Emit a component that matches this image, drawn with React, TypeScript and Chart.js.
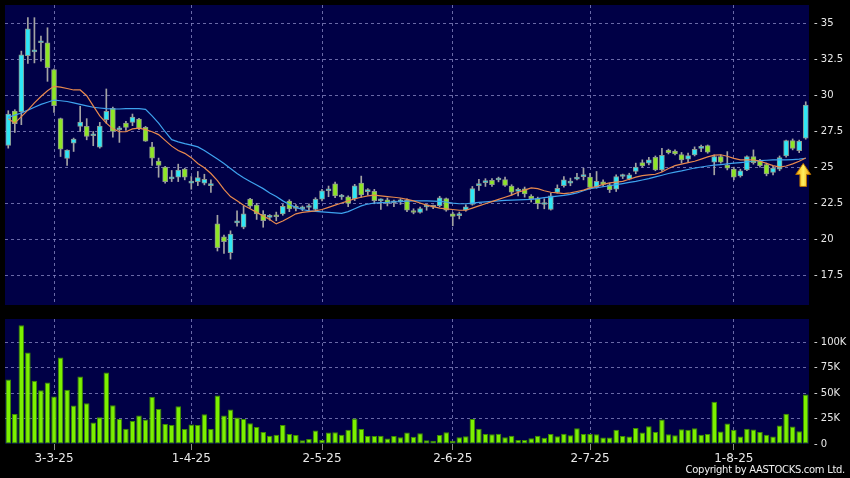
import React, { useEffect, useRef } from 'react';
import { Chart, registerables } from 'chart.js';

Chart.register(...registerables);

// ---- data ----
const opens = [
  26.55, 28.94, 28.87, 32.79, 33.05, 33.68, 33.68, 31.82, 28.41, 25.64,
  26.71, 27.87, 27.87, 27.22, 26.43, 28.34, 29.13, 27.64, 28.10, 28.15,
  28.38, 27.80, 26.46, 25.46, 25.04, 24.23, 24.34, 24.90, 23.93, 24.04,
  23.93, 23.76, 21.10, 20.20, 19.11, 21.17, 20.87, 22.83, 22.41, 21.76,
  21.55, 21.72, 21.79, 22.68, 22.34, 22.14, 22.24, 22.10, 22.82, 23.40,
  23.88, 22.97, 22.98, 22.83, 23.93, 23.34, 23.36, 22.70, 22.77, 22.57,
  22.64, 22.75, 22.00, 21.89, 22.28, 22.26, 22.37, 22.86, 21.80, 21.68,
  22.05, 22.45, 23.76, 23.97, 24.12, 24.15, 24.18, 23.73, 23.36, 23.54,
  23.04, 22.86, 22.45, 22.10, 23.28, 23.75, 23.93, 24.21, 24.38, 24.35,
  23.65, 24.02, 23.81, 23.51, 24.39, 24.21, 24.74, 25.36, 25.32, 25.73,
  24.85, 26.22, 26.15, 25.92, 25.59, 25.89, 26.35, 26.54, 25.38, 25.78,
  25.18, 24.90, 24.44, 24.85, 25.78, 25.48, 25.22, 24.67, 24.90, 25.82,
  26.88, 26.19, 27.05,
];
const highs = [
  28.96, 29.03, 33.10, 35.42, 35.42, 34.14, 34.72, 31.87, 28.45, 26.25,
  27.06, 29.27, 28.41, 27.52, 28.15, 30.47, 29.22, 27.87, 28.22, 28.73,
  28.43, 27.87, 26.76, 25.67, 25.09, 24.81, 25.25, 24.97, 24.39, 24.74,
  24.55, 24.16, 21.70, 20.33, 20.62, 22.00, 22.35, 22.88, 22.53, 22.02,
  21.75, 21.92, 22.45, 22.78, 22.45, 22.35, 22.50, 22.92, 23.50, 23.73,
  24.00, 23.15, 23.05, 23.85, 24.42, 23.55, 23.50, 22.85, 22.90, 22.75,
  22.85, 22.85, 22.15, 22.27, 22.45, 22.40, 23.02, 22.90, 21.90, 21.92,
  22.43, 23.70, 24.19, 24.24, 24.24, 24.35, 24.35, 23.82, 23.58, 23.66,
  23.13, 22.96, 22.85, 23.24, 23.81, 24.39, 24.28, 24.62, 24.97, 24.62,
  24.74, 24.16, 23.93, 24.51, 24.56, 24.62, 25.32, 25.55, 25.73, 25.82,
  26.35, 26.29, 26.24, 26.06, 26.01, 26.45, 26.58, 26.58, 25.89, 25.89,
  26.12, 25.04, 24.90, 25.82, 26.24, 25.59, 25.32, 25.09, 25.82, 26.92,
  27.00, 26.92, 29.58,
];
const lows = [
  26.36, 27.45, 27.99, 32.24, 32.28, 32.40, 31.00, 28.85, 25.78, 25.16,
  26.13, 27.52, 26.94, 26.53, 26.36, 28.10, 27.13, 26.76, 27.59, 27.92,
  27.64, 26.83, 25.16, 24.34, 23.93, 24.04, 24.04, 24.16, 23.51, 23.76,
  23.81, 23.28, 19.22, 19.05, 18.66, 20.95, 20.76, 22.20, 21.41, 20.87,
  21.35, 21.32, 21.70, 21.95, 22.00, 22.02, 22.00, 22.00, 22.70, 22.99,
  22.92, 22.80, 22.30, 22.72, 22.95, 23.10, 22.50, 22.10, 22.35, 22.30,
  22.45, 21.95, 21.80, 21.84, 22.05, 22.15, 22.28, 21.98, 20.97, 21.45,
  21.98, 22.40, 23.43, 23.70, 23.70, 24.02, 23.70, 23.10, 23.04, 22.96,
  22.62, 22.15, 22.15, 22.06, 23.24, 23.66, 23.75, 24.16, 24.16, 23.51,
  23.58, 23.70, 23.28, 23.35, 24.25, 24.16, 24.58, 25.04, 25.20, 24.79,
  24.74, 25.96, 25.89, 25.32, 25.43, 25.82, 26.12, 26.01, 24.51, 25.32,
  24.85, 24.16, 24.35, 24.79, 25.25, 25.04, 24.44, 24.51, 24.79, 25.73,
  26.24, 26.05, 26.98,
];
const closes = [
  28.73, 28.06, 32.84, 34.65, 33.05, 33.68, 31.94, 29.31, 26.29, 26.22,
  26.99, 28.17, 27.18, 27.22, 27.89, 28.92, 27.52, 27.78, 27.80, 28.52,
  27.73, 26.85, 25.67, 25.16, 24.04, 24.23, 24.83, 24.34, 23.93, 24.32,
  24.20, 23.76, 19.45, 19.87, 20.40, 21.17, 21.80, 22.33, 21.80, 21.33,
  21.55, 21.60, 22.32, 22.14, 22.18, 22.14, 22.24, 22.82, 23.40, 23.40,
  23.04, 22.97, 22.53, 23.75, 23.11, 23.34, 22.72, 22.70, 22.53, 22.57,
  22.64, 22.05, 21.89, 22.16, 22.28, 22.26, 22.91, 22.05, 21.62, 21.68,
  22.28, 23.55, 23.76, 23.97, 23.83, 24.15, 23.78, 23.30, 23.36, 23.19,
  22.86, 22.50, 22.45, 23.05, 23.57, 24.16, 23.93, 24.32, 24.38, 23.63,
  24.05, 23.84, 23.47, 24.39, 24.39, 24.51, 25.04, 25.13, 25.55, 24.85,
  25.87, 26.05, 25.96, 25.55, 25.85, 26.28, 26.35, 26.08, 25.78, 25.38,
  24.97, 24.35, 24.78, 25.78, 25.36, 25.15, 24.58, 24.97, 25.71, 26.88,
  26.35, 26.86, 29.35,
];
const maShort = [
  28.4, 28.1, 28.55, 29.0, 29.5, 29.95, 30.35, 30.65, 30.6, 30.5,
  30.4, 30.4, 30.0, 29.3, 28.6, 28.1, 27.7, 27.5, 27.5, 27.7,
  27.75, 27.65, 27.5, 27.3, 26.9, 26.5, 26.2, 26.0, 25.7, 25.3,
  25.0, 24.6, 24.1, 23.5, 23.0, 22.7, 22.4, 22.15, 21.9, 21.65,
  21.4, 21.1, 21.3, 21.55, 21.8, 21.9, 21.95, 22.0, 22.1, 22.25,
  22.4, 22.55, 22.7, 22.85, 22.95, 23.05, 23.1, 23.05, 23.0, 22.95,
  22.9, 22.8, 22.7, 22.55, 22.4, 22.3, 22.2, 22.15, 22.1, 22.05,
  22.05, 22.2, 22.35, 22.5, 22.65, 22.8, 22.95, 23.1, 23.3, 23.45,
  23.6, 23.55, 23.4, 23.3, 23.25, 23.2, 23.25, 23.35, 23.45, 23.6,
  23.7, 23.85, 23.95, 24.0, 24.05, 24.2, 24.35, 24.45, 24.5, 24.55,
  24.7, 24.95, 25.15, 25.25, 25.35, 25.45, 25.6, 25.75, 25.88, 25.9,
  25.8, 25.65, 25.55, 25.55, 25.55, 25.45, 25.3, 25.15, 25.05, 25.12,
  25.27, 25.45, 25.68,
];
const maLong = [
  28.5, 28.65, 28.8, 29.0, 29.2, 29.4, 29.55, 29.7, 29.65, 29.6,
  29.5, 29.4, 29.3, 29.2, 29.15, 29.1, 29.08, 29.08, 29.1, 29.1,
  29.1, 29.05, 28.6, 28.1, 27.5, 26.95, 26.8, 26.67, 26.57, 26.45,
  26.2, 25.9, 25.6, 25.3, 24.95, 24.6, 24.3, 24.05, 23.8, 23.55,
  23.25, 23.0, 22.7, 22.45, 22.25, 22.1, 22.0, 21.97, 21.93, 21.9,
  21.86, 21.83, 21.95, 22.15, 22.35, 22.48, 22.55, 22.58, 22.6, 22.64,
  22.65, 22.68, 22.7, 22.7, 22.7, 22.68, 22.66, 22.62, 22.55, 22.5,
  22.5, 22.55, 22.6, 22.63, 22.66, 22.7, 22.73, 22.75, 22.77, 22.78,
  22.8, 22.85, 22.92, 22.98, 23.03, 23.08, 23.15, 23.25, 23.4, 23.55,
  23.62, 23.68, 23.75, 23.83, 23.9, 23.98, 24.05, 24.15, 24.25, 24.37,
  24.48, 24.6, 24.7, 24.78, 24.88, 24.98, 25.05, 25.12, 25.18, 25.22,
  25.27, 25.32, 25.36, 25.4, 25.47, 25.5, 25.52, 25.55, 25.55, 25.55,
  25.57, 25.6, 25.66,
];
// volume in thousands
const volumes = [
  63.5, 29.6, 116.8, 90.1, 62.2, 53.0, 60.5, 46.7, 85.2, 53.3,
  37.8, 66.5, 40.1, 21.1, 26.3, 70.4, 38.2, 24.7, 15.1, 22.7,
  28.0, 24.0, 46.4, 34.5, 19.7, 18.8, 37.2, 14.8, 19.1, 18.8,
  29.3, 14.8, 47.7, 28.0, 33.9, 26.0, 24.7, 20.4, 16.8, 11.8,
  8.2, 9.0, 18.8, 9.9, 8.9, 3.6, 4.9, 13.2, 3.9, 11.2,
  11.5, 9.2, 14.1, 25.0, 14.8, 7.9, 7.9, 8.2, 5.3, 7.9,
  6.6, 11.2, 7.2, 10.5, 3.6, 3.3, 8.9, 11.5, 3.3, 6.6,
  7.6, 24.7, 15.1, 9.9, 9.5, 10.2, 6.6, 8.2, 3.9, 3.9,
  5.6, 8.2, 6.1, 9.8, 7.6, 10.2, 8.6, 15.5, 9.9, 9.9,
  9.6, 6.3, 6.3, 13.9, 7.9, 7.3, 15.8, 11.2, 17.5, 11.9,
  24.1, 9.6, 8.6, 14.5, 13.9, 15.5, 9.2, 9.9, 41.6, 12.2,
  20.1, 13.9, 7.3, 14.9, 14.2, 11.9, 9.2, 7.3, 18.2, 29.7,
  17.2, 12.5, 48.8,
];
const categories = opens.map((_, i) => String(i));
const xTickIndex = [7, 28, 48, 68, 89, 111];
const xTickLabels = ['3-3-25', '1-4-25', '2-5-25', '2-6-25', '2-7-25', '1-8-25'];
const priceTicks = [17.5, 20, 22.5, 25, 27.5, 30, 32.5, 35];
const volumeTicks = [0, 25, 50, 75, 100];
const PRICE_MIN = 15.47;
const PRICE_MAX = 36.3;
const VOLUME_MAX = 123;
const ARROW_INDEX = 122;
const ARROW_TIP = 25.3;

// ---- styles ----
const NAVY = '#000046';
const GRID = 'rgba(140,140,200,0.75)';
const CYAN = '#2ee6f6';
const LIME = '#8ee626';
const BODY_BORDER = '#8e988e';
const WICK = '#a4a4a4';
const VOL_FILL = '#7cf000';
const VOL_BORDER = '#3d8c00';
const TEXT = '#e8e8e8';
const FONT = 'DejaVu Sans';

const panelBg = {
  id: 'panelBg',
  beforeDraw(chart: any) {
    const { ctx, chartArea: a } = chart;
    ctx.save();
    ctx.fillStyle = NAVY;
    ctx.fillRect(a.left, a.top, a.right - a.left, a.bottom - a.top);
    ctx.restore();
  },
};

const arrowPlugin = {
  id: 'arrowMark',
  afterDatasetsDraw(chart: any) {
    const ctx = chart.ctx;
    const x = chart.scales.x.getPixelForValue(ARROW_INDEX) - 2.5;
    const y = chart.scales.y.getPixelForValue(ARROW_TIP);
    const headH = 11, headW = 7.5, shaftW = 3.3, totalH = 23;
    ctx.save();
    ctx.beginPath();
    ctx.moveTo(x, y);
    ctx.lineTo(x + headW, y + headH);
    ctx.lineTo(x + shaftW, y + headH);
    ctx.lineTo(x + shaftW, y + totalH);
    ctx.lineTo(x - shaftW, y + totalH);
    ctx.lineTo(x - shaftW, y + headH);
    ctx.lineTo(x - headW, y + headH);
    ctx.closePath();
    const g = ctx.createLinearGradient(x - headW, 0, x + headW, 0);
    g.addColorStop(0, '#f0a000');
    g.addColorStop(0.5, '#fff060');
    g.addColorStop(1, '#e89800');
    ctx.fillStyle = g;
    ctx.fill();
    ctx.strokeStyle = '#b87000';
    ctx.lineWidth = 1;
    ctx.stroke();
    ctx.restore();
  },
};

function xAxis(showLabels: boolean) {
  return {
    type: 'category' as const,
    offset: true,
    afterBuildTicks: (axis: any) => {
      axis.ticks = xTickIndex.map((v) => ({ value: v }));
    },
    afterFit: (axis: any) => {
      axis.height = showLabels ? 34 : 0;
      axis.paddingLeft = 0;
      axis.paddingRight = 0;
    },
    grid: {
      offset: false,
      color: GRID,
      lineWidth: 1,
      drawTicks: showLabels,
      tickLength: 6,
      tickColor: '#8a8a8a',
      tickBorderDash: [],
    },
    border: { display: false, dash: [3, 3] },
    ticks: {
      display: showLabels,
      autoSkip: false,
      maxRotation: 0,
      padding: 2,
      color: TEXT,
      font: { family: FONT, size: 12 },
      callback: (value: any) => xTickLabels[xTickIndex.indexOf(Number(value))] ?? '',
    },
  };
}

function yFit(axis: any) {
  axis.width = 41;
  axis.paddingTop = 0;
  axis.paddingBottom = 0;
}

export default function App() {
  const priceRef = useRef<HTMLCanvasElement>(null);
  const volRef = useRef<HTMLCanvasElement>(null);

  useEffect(() => {
    document.body.style.margin = '0';
    document.body.style.background = '#000';

    const price = new Chart(priceRef.current!, {
      type: 'bar',
      data: {
        labels: categories,
        datasets: [
          {
            type: 'line',
            data: maShort,
            borderColor: '#e8894e',
            borderWidth: 1.2,
            pointRadius: 0,
            tension: 0,
            order: 0,
          } as any,
          {
            type: 'line',
            data: maLong,
            borderColor: '#3ea2ee',
            borderWidth: 1.2,
            pointRadius: 0,
            tension: 0,
            order: 1,
          } as any,
          {
            type: 'bar',
            data: lows.map((l, i) => [l, highs[i]]),
            backgroundColor: WICK,
            borderWidth: 0,
            barThickness: 1,
            grouped: false,
            order: 3,
          } as any,
          {
            type: 'bar',
            data: opens.map((o, i) => [o, closes[i]]),
            backgroundColor: opens.map((o, i) => (closes[i] >= o ? CYAN : LIME)),
            borderColor: BODY_BORDER,
            borderWidth: 1,
            borderSkipped: false,
            barThickness: 5,
            minBarLength: 2,
            grouped: false,
            order: 2,
          } as any,
        ],
      },
      options: {
        animation: false,
        responsive: false,
        devicePixelRatio: 1,
        events: [],
        layout: { padding: { left: 5, top: 5, bottom: 5, right: 0 } },
        plugins: { legend: { display: false }, tooltip: { enabled: false } },
        scales: {
          x: xAxis(false) as any,
          y: {
            type: 'linear',
            position: 'right',
            min: PRICE_MIN,
            max: PRICE_MAX,
            afterBuildTicks: (axis: any) => {
              axis.ticks = priceTicks.map((v) => ({ value: v }));
            },
            afterFit: yFit,
            grid: { color: GRID, drawTicks: false },
            border: { display: false, dash: [3, 3] },
            ticks: {
              padding: 5,
              color: TEXT,
              font: { family: FONT, size: 10 },
              callback: (v: any) => '- ' + v,
            },
          },
        },
      },
      plugins: [panelBg, arrowPlugin],
    });

    const vol = new Chart(volRef.current!, {
      type: 'bar',
      data: {
        labels: categories,
        datasets: [
          {
            data: volumes,
            backgroundColor: VOL_FILL,
            borderColor: VOL_BORDER,
            borderWidth: 1,
            borderSkipped: false,
            barPercentage: 0.85,
            categoryPercentage: 1,
          },
        ],
      },
      options: {
        animation: false,
        responsive: false,
        devicePixelRatio: 1,
        events: [],
        layout: { padding: { left: 5, top: 4, bottom: 0, right: 0 } },
        plugins: { legend: { display: false }, tooltip: { enabled: false } },
        scales: {
          x: xAxis(true) as any,
          y: {
            type: 'linear',
            position: 'right',
            min: 0,
            max: VOLUME_MAX,
            afterBuildTicks: (axis: any) => {
              axis.ticks = volumeTicks.map((v) => ({ value: v }));
            },
            afterFit: yFit,
            grid: { color: (c: any) => (c.tick && c.tick.value === 0 ? 'transparent' : GRID), drawTicks: false },
            border: { display: false, dash: [3, 3] },
            ticks: {
              padding: 5,
              color: TEXT,
              font: { family: FONT, size: 10 },
              callback: (v: any) => '- ' + (v === 0 ? '0' : v + 'K'),
            },
          },
        },
      },
      plugins: [panelBg],
    });

    return () => {
      price.destroy();
      vol.destroy();
    };
  }, []);

  return (
    <div style={{ position: 'fixed', left: 0, top: 0, width: 850, height: 478, background: '#000', overflow: 'hidden' }}>
      <canvas ref={priceRef} width={850} height={310} style={{ position: 'absolute', left: 0, top: 0, width: 850, height: 310 }} />
      <canvas ref={volRef} width={850} height={163} style={{ position: 'absolute', left: 0, top: 315, width: 850, height: 163 }} />
      <div
        style={{
          position: 'absolute',
          right: 5,
          top: 464,
          color: '#f0f0f0',
          fontFamily: FONT,
          fontSize: 10,
          letterSpacing: '-0.3px',
          lineHeight: '12px',
          whiteSpace: 'nowrap',
        }}
      >
        Copyright by AASTOCKS.com Ltd.
      </div>
    </div>
  );
}
